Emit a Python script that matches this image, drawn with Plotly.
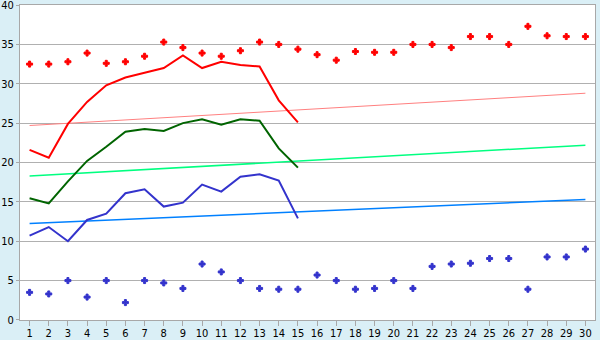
import plotly.graph_objects as go

days = list(range(1, 31))
max_records = [32.5, 32.5, 32.8, 33.9, 32.6, 32.8, 33.5, 35.3, 34.6, 33.9,
               33.5, 34.2, 35.3, 35.0, 34.4, 33.7, 33.0, 34.1, 34.0, 34.0,
               35.0, 35.0, 34.6, 36.0, 36.0, 35.0, 37.3, 36.1, 36.0, 36.0]
min_records = [3.5, 3.3, 5.0, 2.9, 5.0, 2.2, 5.0, 4.7, 4.0, 7.1,
               6.1, 5.0, 4.0, 3.9, 3.9, 5.7, 5.0, 3.9, 4.0, 5.0,
               4.0, 6.8, 7.1, 7.2, 7.8, 7.8, 3.9, 8.0, 8.0, 9.0]
obs_days = list(range(1, 16))
tmax = [21.6, 20.6, 24.9, 27.7, 29.8, 30.8, 31.4, 32.0, 33.6, 32.0,
        32.8, 32.4, 32.2, 27.9, 25.1]
tmean = [15.45, 14.8, 17.6, 20.2, 22.0, 23.9, 24.25, 24.0, 25.0, 25.5,
         24.8, 25.5, 25.3, 21.8, 19.35]
tmin = [10.7, 11.8, 10.0, 12.7, 13.5, 16.1, 16.6, 14.4, 14.9, 17.2,
        16.3, 18.2, 18.5, 17.7, 12.9]
trend_days = [1, 30]
trend_max = [24.7, 28.8]
trend_mean = [18.3, 22.2]
trend_min = [12.25, 15.3]
y_ticks = [0, 5, 10, 15, 20, 25, 30, 35, 40]

fig = go.Figure()
fig.add_trace(go.Scatter(x=trend_days, y=trend_max, mode="lines",
                         line=dict(color="#ff8080", width=1)))
fig.add_trace(go.Scatter(x=trend_days, y=trend_mean, mode="lines",
                         line=dict(color="#00ff80", width=1.5)))
fig.add_trace(go.Scatter(x=trend_days, y=trend_min, mode="lines",
                         line=dict(color="#0080ff", width=1.5)))
fig.add_trace(go.Scatter(x=obs_days, y=tmax, mode="lines",
                         line=dict(color="#ff0000", width=2)))
fig.add_trace(go.Scatter(x=obs_days, y=tmean, mode="lines",
                         line=dict(color="#006400", width=2)))
fig.add_trace(go.Scatter(x=obs_days, y=tmin, mode="lines",
                         line=dict(color="#3333cc", width=2)))
fig.add_trace(go.Scatter(x=days, y=max_records, mode="markers",
                         marker=dict(symbol="cross", size=5, color="#ff0000",
                                     line=dict(width=1, color="#ff0000"))))
fig.add_trace(go.Scatter(x=days, y=min_records, mode="markers",
                         marker=dict(symbol="cross", size=5, color="#3333cc",
                                     line=dict(width=1, color="#3333cc"))))

fig.update_layout(
    width=600, height=340,
    margin=dict(l=20, r=5, t=5, b=20),
    paper_bgcolor="#daeff6", plot_bgcolor="#ffffff",
    showlegend=False,
    font=dict(family="DejaVu Sans Condensed, Liberation Sans, sans-serif", size=11, color="#000000"),
)
fig.update_xaxes(range=[0.5, 30.5], tickmode="array", tickvals=days,
                 ticktext=[str(d) for d in days], showgrid=False,
                 showline=True, linecolor="#a8a8a8", linewidth=1, mirror=True,
                 ticks="outside", ticklen=5, tickcolor="#a8a8a8", zeroline=False,
                 ticklabeloverflow="allow", automargin=False, ticklabelstandoff=-2)
fig.update_yaxes(range=[-0.01, 40.01], tickmode="array", tickvals=y_ticks,
                 showgrid=True, gridcolor="#b0b0b0", gridwidth=1,
                 showline=True, linecolor="#a8a8a8", linewidth=1, mirror=True,
                 ticks="outside", ticklen=3, tickcolor="#a8a8a8", zeroline=False,
                 ticklabeloverflow="allow", automargin=False)

fig.write_html("out.html")
